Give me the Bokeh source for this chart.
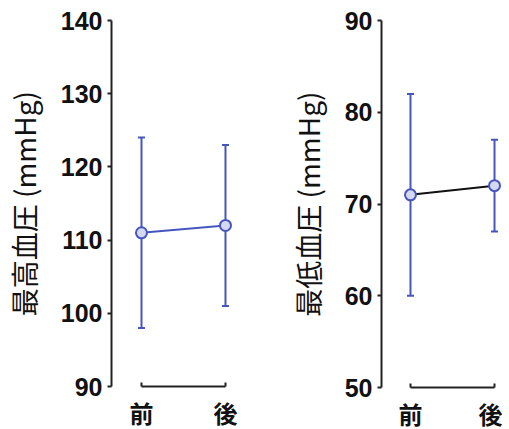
from bokeh.plotting import figure
from bokeh.models import ColumnDataSource, Whisker, TeeHead, FixedTicker
from bokeh.layouts import row
from bokeh.embed import file_html
from bokeh.resources import INLINE

# ---- data ----
categories = ["前", "後"]
sbp_mean = [111, 112]
sbp_upper = [124, 123]
sbp_lower = [98, 101]
dbp_mean = [71, 72]
dbp_upper = [82, 77]
dbp_lower = [60, 67]
sbp_ticks = [90, 100, 110, 120, 130, 140]
dbp_ticks = [50, 60, 70, 80, 90]

BLUE = "#4656be"
AXIS = "#222222"


def panel(mean, upper, lower, yticks, label, line_color, frame_w,
          border_left, border_right, border_top, frame_h, x_start, x_end):
    xs = list(range(len(categories)))
    src = ColumnDataSource(dict(x=xs, m=mean, up=upper, lo=lower))
    p = figure(frame_width=frame_w, frame_height=frame_h,
               x_range=(x_start, x_end), y_range=(yticks[0], yticks[-1]),
               output_backend="svg", toolbar_location=None,
               min_border_left=border_left, min_border_top=border_top,
               min_border_right=border_right, min_border_bottom=0)
    p.outline_line_color = None
    p.grid.visible = False
    p.background_fill_color = "white"
    p.border_fill_color = "white"

    w = Whisker(source=src, base="x", upper="up", lower="lo", dimension="height",
                line_color=BLUE, line_width=2,
                upper_head=TeeHead(size=7, line_color=BLUE, line_width=2),
                lower_head=TeeHead(size=7, line_color=BLUE, line_width=2))
    p.add_layout(w)
    p.line("x", "m", source=src, line_color=line_color, line_width=2)
    p.scatter("x", "m", source=src, size=11, marker="circle",
              line_color=BLUE, line_width=2, fill_color="#d4d8f2")

    ya = p.yaxis[0]
    ya.ticker = FixedTicker(ticks=yticks)
    ya.minor_tick_line_color = None
    ya.major_tick_out = 4
    ya.major_tick_in = 0
    ya.axis_line_width = 2
    ya.axis_line_color = AXIS
    ya.major_tick_line_width = 2
    ya.major_tick_line_color = AXIS
    ya.major_label_text_font = "Liberation Sans"
    ya.major_label_text_font_style = "bold"
    ya.major_label_text_font_size = "25px"
    ya.major_label_text_color = "#111111"
    ya.major_label_standoff = 5
    ya.axis_label = label
    ya.axis_label_text_font = "Noto Sans CJK JP"
    ya.axis_label_text_font_style = "normal"
    ya.axis_label_text_font_size = "28px"
    ya.axis_label_text_color = "#111111"
    ya.axis_label_standoff = 14

    xa = p.xaxis[0]
    xa.ticker = FixedTicker(ticks=xs)
    xa.major_label_overrides = {i: c for i, c in enumerate(categories)}
    xa.bounds = (xs[0], xs[-1])
    xa.minor_tick_line_color = None
    xa.major_tick_in = 4
    xa.major_tick_out = 0
    xa.axis_line_width = 2
    xa.axis_line_color = AXIS
    xa.major_tick_line_width = 2
    xa.major_tick_line_color = AXIS
    xa.major_label_text_font = "Noto Sans CJK JP"
    xa.major_label_text_font_style = "bold"
    xa.major_label_text_font_size = "24px"
    xa.major_label_text_color = "#111111"
    xa.major_label_standoff = 8
    return p


p1 = panel(sbp_mean, sbp_upper, sbp_lower, sbp_ticks, "最高血圧 (mmHg)", BLUE,
           frame_w=138, border_left=109, border_right=8, border_top=18, frame_h=366,
           x_start=-0.357, x_end=1.286)
p2 = panel(dbp_mean, dbp_upper, dbp_lower, dbp_ticks, "最低血圧 (mmHg)", "#111111",
           frame_w=121, border_left=124, border_right=0, border_top=20, frame_h=367,
           x_start=-0.345, x_end=1.095)

layout = row(p1, p2)
open("out.html", "w").write(file_html(layout, INLINE))
